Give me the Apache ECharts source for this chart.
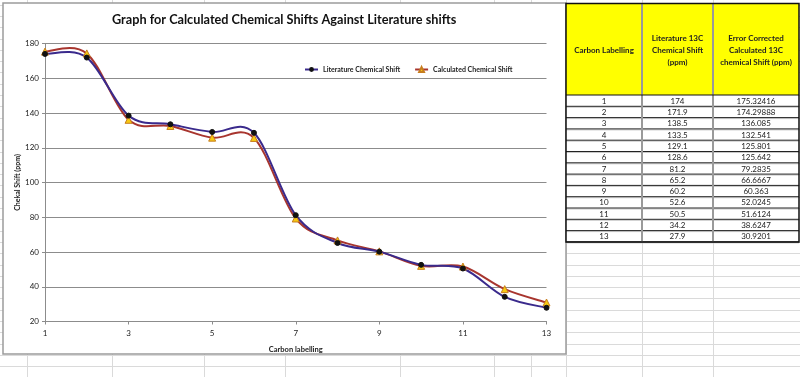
<!DOCTYPE html>
<html><head><meta charset="utf-8">
<script src="https://cdn.jsdelivr.net/npm/echarts@6/dist/echarts.min.js"></script>
<style>html,body{margin:0;padding:0;background:#fff}#c{width:800px;height:377px}</style>
</head><body><div id="c"></div>
<script>
const carbonLabels = ['1','2','3','4','5','6','7','8','9','10','11','12','13'];
const literatureShift = [174, 171.9, 138.5, 133.5, 129.1, 128.6, 81.2, 65.2, 60.2, 52.6, 50.5, 34.2, 27.9];
const calculatedShift = [175.32416, 174.29888, 136.085, 132.541, 125.801, 125.642, 79.2835, 66.6667, 60.363, 52.0245, 51.6124, 38.6247, 30.9201];
const seriesNames = ['Literature Chemical Shift', 'Calculated Chemical Shift'];
const tableHeaders = ['Carbon Labelling', 'Literature 13C\nChemical Shift\n(ppm)', 'Error Corrected\nCalculated 13C\nchemical Shift (ppm)'];
const titleText = 'Graph for Calculated Chemical Shifts Against Literature shifts';
const yAxisTitle = 'Chekal Shift (ppm)';
const xAxisTitle = 'Carbon labelling';

const FONT = 'Lato, "Open Sans", sans-serif';
const BLUE = '#3a2a8c', RED = '#a8352e';
const chart = echarts.init(document.getElementById('c'), null, {renderer: 'canvas'});

// spreadsheet layout
const rowH = 11.3;
const rowBase = 95;
const sheetCols = [27, 112, 204, 285, 400, 494, 531, 566, 642, 713];
const tbl = {x0: 566, x1: 799, cols: [566, 642, 713, 799], top: 3.5, head: 95};

const g = [];
for (let k = -9; k < 26; k++) {
  const y = Math.round(rowBase + k * rowH) + 0.5;
  g.push({type: 'line', z: -10, shape: {x1: 0, y1: y, x2: 800, y2: y}, style: {stroke: '#dadada', lineWidth: 1}, silent: true});
}
sheetCols.forEach(x => g.push({type: 'line', z: -10, shape: {x1: x + 0.5, y1: 0, x2: x + 0.5, y2: 377}, style: {stroke: '#dadada', lineWidth: 1}, silent: true}));
g.push({type: 'rect', z: -9, shape: {x: 3, y: 3, width: 563, height: 351}, style: {fill: '#fff', stroke: '#9c9c9c', lineWidth: 1.5}, silent: true});
const nRows = carbonLabels.length;
const tblBottom = tbl.head + nRows * rowH;
g.push({type: 'rect', z: 1, shape: {x: tbl.x0, y: tbl.top, width: tbl.x1 - tbl.x0, height: tblBottom - tbl.top}, style: {fill: '#fff'}, silent: true});
g.push({type: 'rect', z: 2, shape: {x: tbl.x0, y: tbl.top, width: tbl.x1 - tbl.x0, height: tbl.head - tbl.top}, style: {fill: '#ffff00'}, silent: true});
for (let i = 1; i <= nRows; i++) {
  const y = tbl.head + i * rowH;
  g.push({type: 'line', z: 3, shape: {x1: tbl.x0, y1: y + 1, x2: tbl.x1, y2: y + 1}, style: {stroke: '#c8c8c8', lineWidth: 1}, silent: true});
  g.push({type: 'line', z: 3, shape: {x1: tbl.x0, y1: y, x2: tbl.x1, y2: y}, style: {stroke: '#222', lineWidth: 1}, silent: true});
}
[tbl.cols[1], tbl.cols[2]].forEach(x => g.push({type: 'line', z: 3, shape: {x1: x, y1: tbl.top, x2: x, y2: tblBottom}, style: {stroke: '#9a9a9a', lineWidth: 2}, silent: true}));
g.push({type: 'line', z: 4, shape: {x1: tbl.x0, y1: tbl.head, x2: tbl.x1, y2: tbl.head}, style: {stroke: '#111', lineWidth: 1.2}, silent: true});
g.push({type: 'rect', z: 4, shape: {x: tbl.x0, y: tbl.top, width: tbl.x1 - tbl.x0, height: tblBottom - tbl.top}, style: {fill: 'none', stroke: '#111', lineWidth: 1.5}, silent: true});
tableHeaders.forEach((t, c) => {
  g.push({type: 'text', z: 5, x: (tbl.cols[c] + tbl.cols[c + 1]) / 2, y: (tbl.top + tbl.head) / 2 + 1,
    style: {text: t, fill: '#222', font: 'bold 8px ' + FONT, textAlign: 'center', textVerticalAlign: 'middle', lineHeight: 12}, silent: true});
});
const cellVals = [carbonLabels, literatureShift, calculatedShift];
for (let i = 0; i < nRows; i++) {
  cellVals.forEach((arr, c) => {
    g.push({type: 'text', z: 5, x: (tbl.cols[c] + tbl.cols[c + 1]) / 2, y: tbl.head + (i + 0.5) * rowH + 0.5,
      style: {text: String(arr[i]), fill: '#222', font: '8px ' + FONT, textAlign: 'center', textVerticalAlign: 'middle'}, silent: true});
  });
}

// Excel-like (Catmull-Rom) smoothed curve drawn through the axes' own coordinate mapping
function smoothCurve(color) {
  return function (params, api) {
    if (params.dataIndex !== 0) return null;
    const n = params.dataInsideLength;
    const p = [];
    for (let i = 0; i < n; i++) p.push(api.coord([api.value(0, i), api.value(1, i)]));
    const segs = [];
    for (let i = 0; i < n - 1; i++) {
      const p0 = p[Math.max(i - 1, 0)], p1 = p[i], p2 = p[i + 1], p3 = p[Math.min(i + 2, n - 1)];
      segs.push({type: 'bezierCurve', shape: {
        x1: p1[0], y1: p1[1], x2: p2[0], y2: p2[1],
        cpx1: p1[0] + (p2[0] - p0[0]) / 6, cpy1: p1[1] + (p2[1] - p0[1]) / 6,
        cpx2: p2[0] - (p3[0] - p1[0]) / 6, cpy2: p2[1] - (p3[1] - p1[1]) / 6
      }, style: {stroke: color, lineWidth: 2, fill: null, lineCap: 'round'}});
    }
    return {type: 'group', children: segs};
  };
}

const option = {
  backgroundColor: '#fff',
  animation: false,
  title: {text: titleText, left: 107, top: 8, textStyle: {fontFamily: FONT, fontSize: 12.7, fontWeight: 'bold', color: '#111'}},
  legend: {
    left: 299, top: 61, itemWidth: 13, itemHeight: 6, itemGap: 14,
    textStyle: {fontFamily: FONT, fontSize: 7, color: '#222', fontWeight: 'bold'},
    data: [
      {name: seriesNames[0], lineStyle: {color: BLUE, width: 2, opacity: 1}},
      {name: seriesNames[1], lineStyle: {color: RED, width: 2, opacity: 1}}
    ]
  },
  grid: {left: 45, right: 253.5, top: 43.5, bottom: 55.5},
  xAxis: {
    type: 'category', data: carbonLabels, boundaryGap: false,
    name: xAxisTitle, nameLocation: 'middle', nameGap: 24, nameMoveOverlap: false,
    nameTextStyle: {fontFamily: FONT, fontSize: 7.5, fontWeight: 'bold', color: '#222'},
    axisLine: {lineStyle: {color: '#8c8c8c', width: 1}},
    axisTick: {show: true, interval: 1, length: 3, lineStyle: {color: '#8c8c8c'}},
    axisLabel: {interval: 1, fontFamily: FONT, fontSize: 8, color: '#222', margin: 8},
    splitLine: {show: false}
  },
  yAxis: {
    type: 'value', min: 20, max: 180, interval: 20,
    name: yAxisTitle, nameLocation: 'middle', nameGap: 24, nameRotate: 90, nameMoveOverlap: false,
    nameTextStyle: {fontFamily: FONT, fontSize: 7, fontWeight: 'bold', color: '#222'},
    axisLine: {show: true, lineStyle: {color: '#8c8c8c', width: 1}},
    axisTick: {show: true, length: 3, lineStyle: {color: '#8c8c8c'}},
    axisLabel: {fontFamily: FONT, fontSize: 8, color: '#222', margin: 6},
    splitLine: {lineStyle: {color: '#8c8c8c', width: 1}}
  },
  series: [
    {name: 'calcCurve', type: 'custom', renderItem: smoothCurve(RED), z: 2, clip: false,
      data: carbonLabels.map((c, i) => [c, calculatedShift[i]])},
    {name: 'litCurve', type: 'custom', renderItem: smoothCurve(BLUE), z: 3, clip: false,
      data: carbonLabels.map((c, i) => [c, literatureShift[i]])},
    {name: seriesNames[0], type: 'line', data: literatureShift, z: 5,
      lineStyle: {color: BLUE, width: 2, opacity: 0}, itemStyle: {color: '#111', borderColor: '#111'},
      symbol: 'circle', symbolSize: 5},
    {name: seriesNames[1], type: 'line', data: calculatedShift, z: 4,
      lineStyle: {color: RED, width: 2, opacity: 0}, itemStyle: {color: '#f6c912', borderColor: '#c77d1e', borderWidth: 1},
      symbol: 'triangle', symbolSize: 7}
  ],
  graphic: {elements: g}
};
chart.setOption(option);
</script>
</body></html>
